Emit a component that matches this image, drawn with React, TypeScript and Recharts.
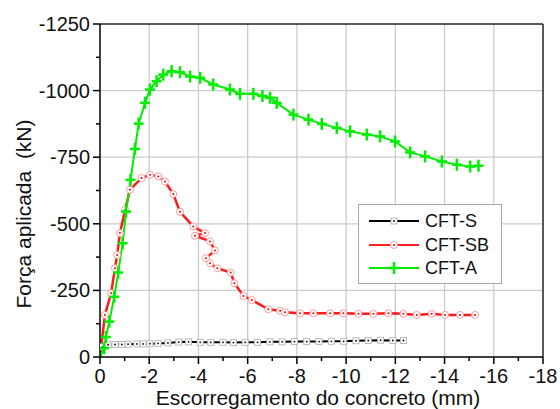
import { LineChart, Line, XAxis, YAxis, CartesianGrid, ReferenceLine, Legend, Label } from 'recharts';

// slip (mm) and applied force (kN)
const sX = [0, -0.1, -0.33, -0.61, -0.89, -1.14, -1.5, -1.75, -2.03, -2.36, -2.76, -3.2, -3.6, -4.07, -4.5, -5.0, -5.42, -5.9, -6.4, -6.9, -7.4, -7.9, -8.4, -8.9, -9.4, -9.9, -10.4, -10.9, -11.4, -11.9, -12.33];
const sY = [0, -38, -46, -47, -47, -48, -49, -49, -50, -51, -53, -56, -57, -55, -55, -55, -54, -55, -55, -57, -57, -58, -58, -58, -59, -59, -61, -62, -63, -62, -62];

const sbX = [0, -0.2, -0.45, -0.61, -0.7, -0.81, -1.02, -1.22, -1.69, -2.03, -2.37, -2.64, -2.98, -3.25, -3.79, -4.27, -3.86, -4.47, -4.67, -4.31, -4.47, -4.77, -5.31, -5.46, -5.83, -6.17, -6.84, -7.32, -7.52, -8.13, -8.67, -9.35, -9.89, -10.5, -11.11, -11.72, -12.33, -12.87, -13.48, -14.02, -14.63, -15.24];
const sbY = [0, -158, -239, -333, -383, -465, -553, -628, -672, -684, -678, -659, -612, -545, -490, -465, -455, -434, -400, -371, -352, -333, -317, -277, -229, -214, -179, -174, -168, -164, -164, -164, -164, -162, -162, -164, -162, -158, -162, -158, -158, -158];

const aX = [0, -0.17, -0.24, -0.38, -0.58, -0.74, -0.92, -1.06, -1.24, -1.42, -1.57, -1.83, -2.03, -2.3, -2.57, -2.91, -3.25, -3.66, -4.07, -4.6, -5.28, -5.69, -6.23, -6.6, -6.91, -7.18, -7.86, -8.47, -9.01, -9.62, -10.16, -10.84, -11.38, -11.99, -12.6, -13.21, -13.89, -14.5, -15.04, -15.38];
const aY = [0, -33, -75, -133, -226, -317, -427, -546, -665, -781, -876, -954, -1004, -1035, -1060, -1073, -1069, -1053, -1048, -1023, -1004, -988, -988, -980, -973, -954, -910, -891, -875, -860, -847, -835, -828, -809, -768, -753, -734, -722, -715, -718];

const xTicks = [0, -1, -2, -3, -4, -5, -6, -7, -8, -9, -10, -11, -12, -13, -14, -15, -16, -17, -18];
const yTicks = [0, -125, -250, -375, -500, -625, -750, -875, -1000, -1125, -1250];
const xMajor = [0, -2, -4, -6, -8, -10, -12, -14, -16];
const yMajor = [-250, -500, -750, -1000];

const seriesNames = ['CFT-S', 'CFT-SB', 'CFT-A'];

const toPoints = (xs: number[], ys: number[]) => xs.map((x, i) => ({ x, y: ys[i] }));
const sData = toPoints(sX, sY);
const sbData = toPoints(sbX, sbY);
const aData = toPoints(aX, aY);

const FONT = '"Liberation Sans", Arial, sans-serif';

const SquareMark = ({ cx, cy }: { cx: number; cy: number }) => (
  <g>
    <rect x={cx - 3} y={cy - 3} width={6} height={6} fill="#fff" stroke="#bbb" strokeWidth={1} />
    <circle cx={cx} cy={cy} r={0.9} fill="#000" />
  </g>
);
const CircleMark = ({ cx, cy }: { cx: number; cy: number }) => (
  <g>
    <circle cx={cx} cy={cy} r={3.5} fill="#fff" stroke="#ff9a9a" strokeWidth={1} />
    <circle cx={cx} cy={cy} r={1} fill="#e00" />
  </g>
);
const PlusMark = ({ cx, cy }: { cx: number; cy: number }) => (
  <g stroke="#00ee00" strokeWidth={2.5}>
    <line x1={cx - 5} y1={cy} x2={cx + 5} y2={cy} />
    <line x1={cx} y1={cy - 6} x2={cx} y2={cy + 6} />
  </g>
);

const dotOf = (Mark: any, id: string) => (p: any) =>
  p.index === 0 ? <g key={`${id}-${p.index}`} /> : <g key={`${id}-${p.index}`}><Mark cx={p.cx} cy={p.cy} /></g>;

const YTick = ({ x, y, payload }: any) => {
  const major = payload.value % 250 === 0;
  return (
    <g>
      <line x1={x - (major ? 7 : 4)} y1={y} x2={x} y2={y} stroke="#000" strokeWidth={1.5} />
      {major && (
        <text x={x - 10} y={y + 7} textAnchor="end" fontSize={20} fontFamily={FONT} fill="#111">
          {payload.value}
        </text>
      )}
    </g>
  );
};

const XTick = ({ x, y, payload }: any) => {
  const major = payload.value % 2 === 0;
  return (
    <g>
      <line x1={x} y1={y} x2={x} y2={y + (major ? 7 : 4)} stroke="#000" strokeWidth={1.5} />
      {major && (
        <text x={x} y={y + 26} textAnchor="middle" fontSize={20} fontFamily={FONT} fill="#111">
          {payload.value}
        </text>
      )}
    </g>
  );
};

const legendMarks = [SquareMark, CircleMark, PlusMark];
const legendColors = ['#000', '#ff2020', '#00ee00'];

const LegendBox = () => (
  <div style={{ position: 'relative', width: 144, height: 80, border: '1px solid #a8a8a8', background: '#fff', boxSizing: 'border-box' }}>
    {seriesNames.map((name, i) => {
      const Mark = legendMarks[i];
      const top = [16, 40, 63][i];
      return (
        <div key={name}>
          <svg style={{ position: 'absolute', left: 9, top: top - 8 }} width={52} height={16}>
            <line x1={1} y1={8} x2={51} y2={8} stroke={legendColors[i]} strokeWidth={2} />
            <Mark cx={26} cy={8} />
          </svg>
          <span style={{ position: 'absolute', left: 66, top: top - 11, fontSize: 18, lineHeight: '22px', fontFamily: FONT, color: '#111' }}>
            {name}
          </span>
        </div>
      );
    })}
  </div>
);

export default function App() {
  return (
    <div style={{ position: 'absolute', left: 0, top: 0, width: 560, height: 409, background: '#fff' }}>
      <LineChart width={560} height={409} margin={{ top: 24, right: 17, bottom: 0, left: 0 }}>
        <CartesianGrid stroke="#cccccc" strokeWidth={1.3} horizontalValues={yMajor} verticalValues={xMajor.filter((v) => v !== 0)} />
        <XAxis
          dataKey="x"
          type="number"
          domain={[-18, 0]}
          reversed
          allowDataOverflow
          ticks={xTicks}
          interval={0}
          tickSize={0}
          tickMargin={0}
          tick={<XTick />}
          height={52}
          axisLine={{ stroke: '#000', strokeWidth: 1.5 }}
        >
          <Label
            content={() => (
              <text x={318} y={405} textAnchor="middle" fontSize={21} fontFamily={FONT} fill="#111">
                Escorregamento do concreto (mm)
              </text>
            )}
          />
        </XAxis>
        <YAxis
          type="number"
          domain={[-1250, 0]}
          reversed
          allowDataOverflow
          ticks={yTicks}
          interval={0}
          tickSize={0}
          tickMargin={0}
          tick={<YTick />}
          width={100}
          axisLine={{ stroke: '#000', strokeWidth: 1.5 }}
        >
          <Label
            content={() => (
              <text transform="translate(31,214) rotate(-90)" textAnchor="middle" fontSize={21} fontFamily={FONT} fill="#111" style={{ whiteSpace: 'pre' }}>
                {'Força aplicada  (kN)'}
              </text>
            )}
          />
        </YAxis>
        <ReferenceLine y={-1250} stroke="#222" strokeWidth={1.5} />
        <ReferenceLine x={-18} stroke="#222" strokeWidth={1.5} />
        <Legend
          layout="vertical"
          align="center"
          verticalAlign="middle"
          content={() => <LegendBox />}
          wrapperStyle={{ left: 358, top: 204, width: 144, height: 80 }}
        />
        <Line data={sData} dataKey="y" name={seriesNames[0]} stroke="#000" strokeWidth={2} dot={dotOf(SquareMark, 's')} isAnimationActive={false} />
        <Line data={sbData} dataKey="y" name={seriesNames[1]} stroke="#ff1a1a" strokeWidth={2.5} dot={dotOf(CircleMark, 'sb')} isAnimationActive={false} />
        <Line data={aData} dataKey="y" name={seriesNames[2]} stroke="#00ee00" strokeWidth={2} dot={dotOf(PlusMark, 'a')} isAnimationActive={false} />
      </LineChart>
    </div>
  );
}
